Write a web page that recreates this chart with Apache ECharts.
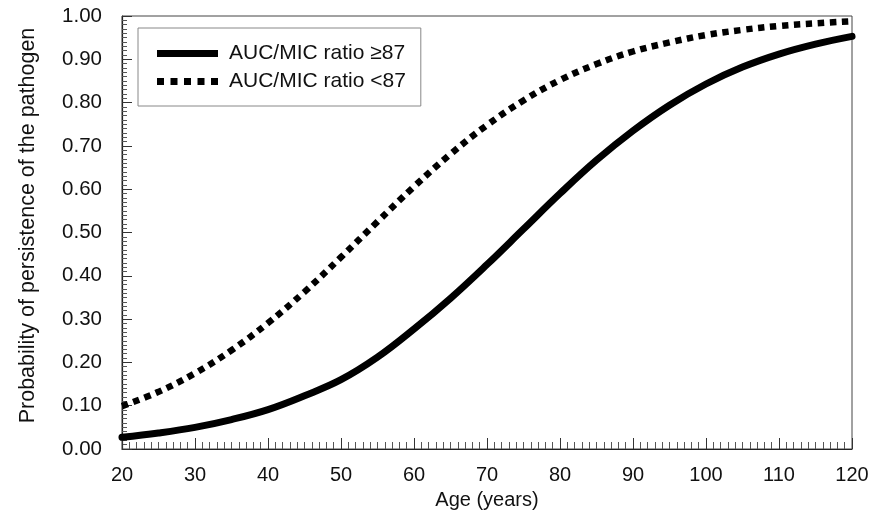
<!DOCTYPE html>
<html>
<head>
<meta charset="utf-8">
<script src="https://cdn.jsdelivr.net/npm/echarts@6/dist/echarts.min.js"></script>
<style>
html,body{margin:0;padding:0;background:#fff;}
#chart{width:883px;height:516px;}
</style>
</head>
<body>
<div id="chart"></div>
<script>
// Age (years)
var ages = [20,25,30,35,40,45,50,55,60,65,70,75,80,85,90,95,100,105,110,115,120];
// AUC/MIC ratio >=87 (solid)
var solidValues = [0.027,0.037,0.050,0.068,0.091,0.123,0.160,0.212,0.277,0.348,0.426,0.508,0.590,0.667,0.735,0.794,0.843,0.882,0.912,0.935,0.953];
// AUC/MIC ratio <87 (dotted)
var dottedValues = [0.099,0.132,0.175,0.228,0.291,0.363,0.443,0.525,0.606,0.681,0.748,0.805,0.852,0.889,0.918,0.939,0.956,0.968,0.977,0.983,0.988];
var seriesNames = ['AUC/MIC ratio \u226587', 'AUC/MIC ratio <87'];
var xTicks = {min:20, max:120, interval:10};
var yTicks = {min:0, max:1, interval:0.1};

function pairs(xs, ys){ return xs.map(function(x,i){ return [x, ys[i]]; }); }

var solidIcon = 'path://M0,0L61,0L61,7L0,7Z';
var dottedIcon = 'path://M0,0h7v7h-7zM13.5,0h7v7h-7zM27,0h7v7h-7zM40.5,0h7v7h-7zM54,0h7v7h-7z';

var font = "'Liberation Sans', Arial, sans-serif";
var chart = echarts.init(document.getElementById('chart'), null, {renderer:'canvas'});
chart.setOption({
  animation:false,
  backgroundColor:'#fff',
  grid:{left:122, right:31, top:16, bottom:67, show:true, borderColor:'#444', borderWidth:1, backgroundColor:'transparent'},
  legend:{
    left:138, top:28, orient:'vertical',
    padding:[15,15,14,19],
    borderColor:'#888', borderWidth:1, backgroundColor:'#fff',
    itemWidth:61, itemHeight:20, itemGap:7,
    textStyle:{fontFamily:font, fontSize:21, color:'#111', padding:[0,0,0,6]},
    data:[
      {name:seriesNames[0], icon:solidIcon, itemStyle:{color:'#000'}},
      {name:seriesNames[1], icon:dottedIcon, itemStyle:{color:'#000'}}
    ]
  },
  xAxis:{
    type:'value', min:xTicks.min, max:xTicks.max, interval:xTicks.interval,
    name:'Age (years)', nameLocation:'middle', nameGap:41,
    nameTextStyle:{fontFamily:font, fontSize:20, color:'#111'},
    axisLine:{show:true, lineStyle:{color:'#222', width:1.2}},
    axisTick:{show:true, inside:true, length:11, lineStyle:{color:'#333', width:1}},
    minorTick:{show:true, splitNumber:10, length:7, lineStyle:{color:'#555', width:1}},
    axisLabel:{fontFamily:font, fontSize:20, color:'#111', margin:16},
    splitLine:{show:false}
  },
  yAxis:{
    type:'value', min:yTicks.min, max:yTicks.max, interval:yTicks.interval,
    name:'Probability of persistence of the pathogen', nameLocation:'middle', nameGap:83,
    nameTextStyle:{fontFamily:font, fontSize:21.5, color:'#111', padding:[0,0,0,14]},
    axisLine:{show:true, lineStyle:{color:'#222', width:1.2}},
    axisTick:{show:true, inside:true, length:10, lineStyle:{color:'#333', width:1}},
    minorTick:{show:true, splitNumber:10, length:5, lineStyle:{color:'#555', width:1}},
    axisLabel:{fontFamily:font, fontSize:20.5, color:'#111', margin:20,
      formatter:function(v){ return v.toFixed(2); }},
    splitLine:{show:false}
  },
  series:[
    {name:seriesNames[0], type:'line', data:pairs(ages, solidValues), smooth:0.4, symbol:'none',
     lineStyle:{color:'#000', width:7, type:'solid', cap:'round'}, itemStyle:{color:'#000'}},
    {name:seriesNames[1], type:'line', data:pairs(ages, dottedValues), smooth:0.4, symbol:'none',
     lineStyle:{color:'#000', width:6.5, type:[6.5,5.5], cap:'butt'}, itemStyle:{color:'#000'}}
  ]
});
</script>
</body>
</html>
